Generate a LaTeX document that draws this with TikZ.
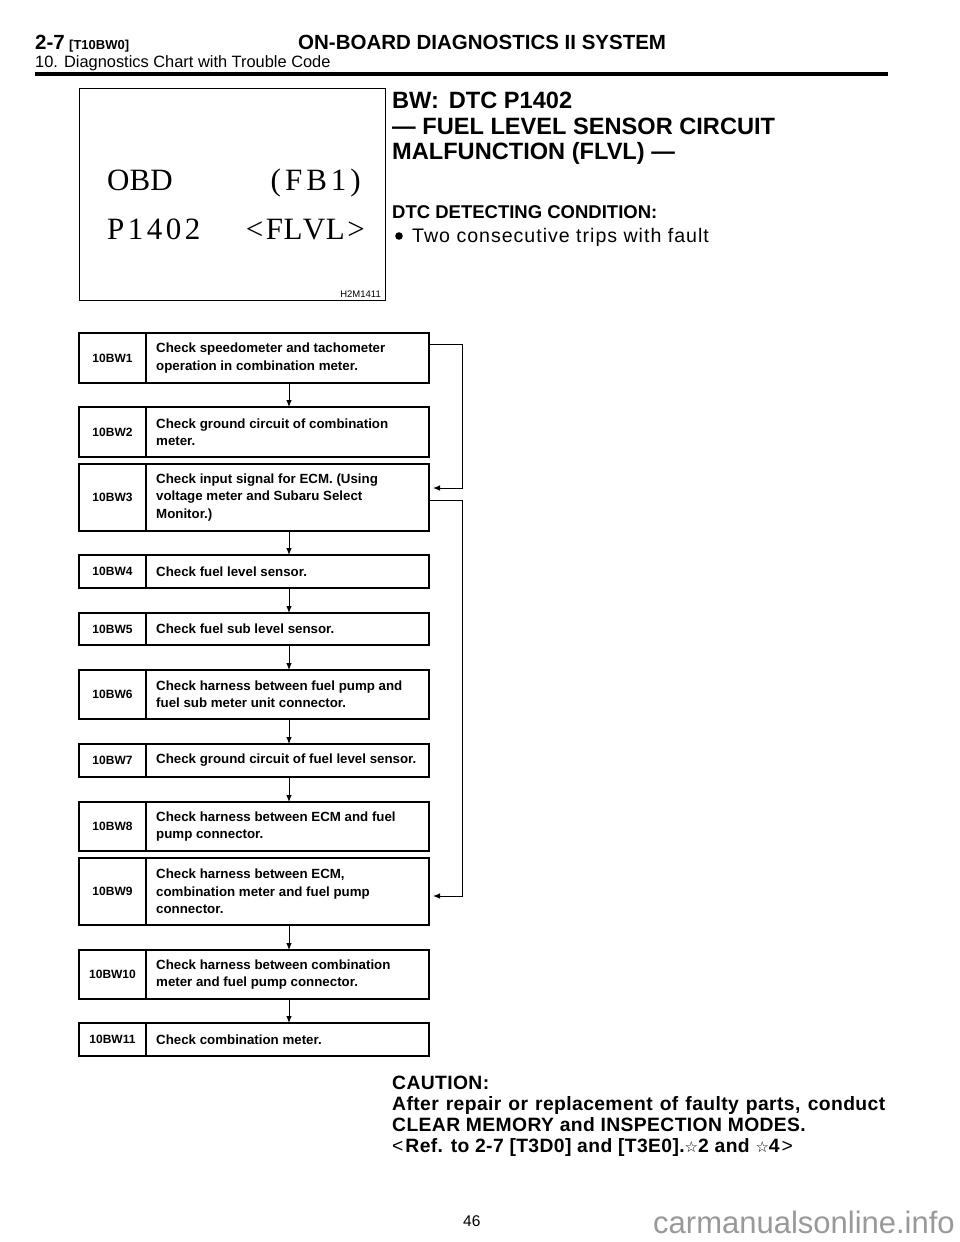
\documentclass[tikz,border=0pt]{standalone}
\usepackage{fontspec}
\setmainfont{Liberation Sans}
\newfontfamily\obdserif{Liberation Serif}
\newfontfamily\starfont{DejaVu Sans}
\newfontfamily\widesans[LetterSpace=5]{Liberation Sans}
\newfontfamily\cautionsans[LetterSpace=2]{Liberation Sans}
\usetikzlibrary{arrows.meta}
\tikzset{
  fcbody/.style={draw, line width=1.1pt, minimum width=350pt, inner sep=0pt, outer sep=0pt, anchor=north west},
  fcid/.style={inner sep=0pt, font=\fontsize{12}{14}\selectfont\bfseries},
  fctext/.style={inner sep=0pt, anchor=west, align=left, font=\fontsize{13.3}{17.3}\selectfont\bfseries},
  downarrow/.style={line width=0.9pt, -{Latex[length=7pt,width=5.5pt]}},
  sidearrow/.style={line width=0.9pt, -{Latex[length=7pt,width=5.5pt]}},
  txt/.style={inner sep=0pt, anchor=base west},
  txte/.style={inner sep=0pt, anchor=base east},
  obdfont/.style={font=\obdserif\fontsize{31}{34}\selectfont},
  titlefont/.style={font=\fontsize{23.6}{26}\selectfont\bfseries},
  cautionfont/.style={font=\cautionsans\fontsize{19.3}{21}\selectfont\bfseries},
}
\newcommand\fcbox[5]{%
  \node[fcbody, minimum height={(#3-#2)*1pt}] (#1) at (79,#2) {};
  \draw[line width=1.7pt] (146,#2) -- (146,#3);
  \node[fcid] (#1id) at (112.5,{(#2+#3)/2}) {#4};
  \node[fctext] (#1tx) at (156,{(#2+#3)/2}) {#5};
}
\begin{document}
\begin{tikzpicture}[x=1pt,y=-1pt]
\fill[white] (0,0) rectangle (960,1242);
\useasboundingbox (0,0) rectangle (960,1242);

% header
\node[txt, font=\fontsize{20.5}{24}\selectfont\bfseries] (h1) at (35,49) {2-7};
\node[txt, font=\fontsize{13}{16}\selectfont\bfseries] (h2) at (69,49) {[T10BW0]};
\node[txt, font=\fontsize{20.5}{24}\selectfont\bfseries] (h3) at (298,49) {ON-BOARD DIAGNOSTICS II SYSTEM};
\node[txt, font=\fontsize{16.4}{19}\selectfont] (h4) at (35,67) {10. Diagnostics Chart with Trouble Code};
\draw[line width=3.8pt] (35,74) -- (888,74);

% OBD screen
\node[draw, line width=1.1pt, minimum width=306pt, minimum height=212pt, inner sep=0pt, anchor=north west] (obd) at (79,88) {};
\node[txt, obdfont] (o1) at (107,190) {OBD};
\node[txte, obdfont] (o2) at (361,190) {(\kern4pt F\kern4pt B\kern4pt 1\kern4pt)};
\node[txt, obdfont] (o3) at (107,239) {P\kern3.5pt 1\kern3.5pt 4\kern3.5pt 0\kern3.5pt 2};
\node[txte, obdfont] (o4) at (365,239) {<\kern2.5pt F\kern0.5pt L\kern0.5pt V\kern0.5pt L\kern2.5pt >};
\node[txte, font=\fontsize{9.5}{11}\selectfont] (o5) at (381,297) {H2M1411};

% title on the right
\node[txt, titlefont] (t1) at (392,108) {BW:\hspace{10pt}DTC P1402};
\node[txt, titlefont] (t2) at (392,134) {--- FUEL LEVEL SENSOR CIRCUIT};
\node[txt, titlefont] (t3) at (392,159) {MALFUNCTION (FLVL) ---};
\node[txt, font=\fontsize{18.5}{21}\selectfont\bfseries] (t4) at (392,218) {DTC DETECTING CONDITION:};
\fill (399,236) circle (3.8pt);
\node[txt, font=\widesans\fontsize{19.6}{22}\selectfont] (t5) at (412,242) {Two consecutive trips with fault};

% flowchart
\fcbox{b1}{333}{383}{10BW1}{Check speedometer and tachometer\\operation in combination meter.}
\fcbox{b2}{407}{457}{10BW2}{Check ground circuit of combination\\meter.}
\fcbox{b3}{464}{531}{10BW3}{Check input signal for ECM. (Using\\voltage meter and Subaru Select\\Monitor.)}
\fcbox{b4}{555}{588}{10BW4}{Check fuel level sensor.}
\fcbox{b5}{613}{645}{10BW5}{Check fuel sub level sensor.}
\fcbox{b6}{670}{719}{10BW6}{Check harness between fuel pump and\\fuel sub meter unit connector.}
\fcbox{b7}{744}{777}{10BW7}{Check ground circuit of fuel level sensor.}
\fcbox{b8}{802}{851}{10BW8}{Check harness between ECM and fuel\\pump connector.}
\fcbox{b9}{858}{925}{10BW9}{Check harness between ECM,\\combination meter and fuel pump\\connector.}
\fcbox{b10}{950}{999}{10BW10}{Check harness between combination\\meter and fuel pump connector.}
\fcbox{b11}{1023}{1056}{10BW11}{Check combination meter.}

\coordinate (ax) at (289,0);
\foreach \a/\b in {b1/b2,b3/b4,b4/b5,b5/b6,b6/b7,b7/b8,b9/b10,b10/b11}
  \draw[downarrow] (\a.south -| ax) -- (\b.north -| ax);

\coordinate (rx) at (462,0);
\coordinate (s1) at ([yshift=-11pt]b1.north east);
\coordinate (e1) at ([shift={(4pt,9.5pt)}]b3.east);
\draw[sidearrow] (s1) -- (s1 -| rx) -- (rx |- e1) -- (e1);
\coordinate (s2) at ([yshift=-2.5pt]b3.east);
\coordinate (e2) at ([shift={(4pt,-4.5pt)}]b9.east);
\draw[sidearrow] (s2) -- (s2 -| rx) -- (rx |- e2) -- (e2);

% caution
\node[txt, cautionfont] (c1) at (392,1089) {CAUTION:};
\node[txt, cautionfont] (c2) at (392,1110) {\makebox[493pt][s]{After repair or replacement of faulty parts, conduct}};
\node[txt, cautionfont] (c3) at (392,1131) {CLEAR MEMORY and INSPECTION MODES.};
\node[txt, cautionfont] (c4) at (392,1152) {{\mdseries <}\kern2pt Ref. to 2-7 [T3D0] and [T3E0].{\starfont\mdseries\fontsize{15}{16}\selectfont ☆}2 and {\starfont\mdseries\fontsize{15}{16}\selectfont ☆}4\kern2pt{\mdseries >}};

% page number and mark
\node[txt, font=\fontsize{15.5}{18}\selectfont] (pg) at (463,1226) {46};
\node[txt, font=\fontsize{31}{33}\selectfont, text=black!40] (wm) at (653,1233) {carmanualsonline.info};
\end{tikzpicture}
\end{document}
